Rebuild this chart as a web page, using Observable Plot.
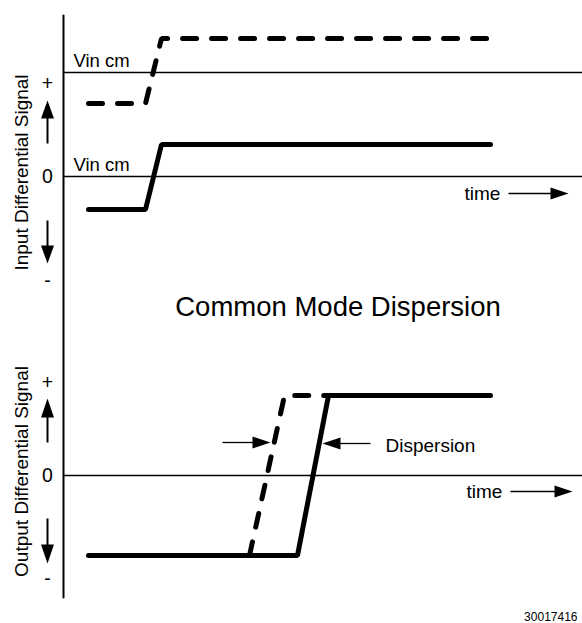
<!DOCTYPE html>
<html><head><meta charset="utf-8">
<script src="https://cdn.jsdelivr.net/npm/d3@7"></script>
<script src="https://cdn.jsdelivr.net/npm/@observablehq/plot@0.6"></script>
<style>body{margin:0;background:#fff}#chart svg{display:block}</style>
</head><body><div id="chart"></div>
<script>
// ---- data (diagram units: time along x, signal level along y, increasing downward) ----
const axisT = [63, 63];
const axisV = [15, 597];
const refStartT = 63, refEndT = 582;
const refLevels = [72, 176, 475];               // Vin cm, input 0, output 0

const inSolidT  = [88, 145, 161, 490];
const inSolidV  = [209, 209, 144, 144];
const inDashT   = [88, 145, 161, 487];
const inDashV   = [103, 103, 38, 38];

const outSolidT = [88, 297, 328, 490];
const outSolidV = [555, 555, 395, 395];
const outDashT  = [249, 284, 490];
const outDashV  = [555, 395, 395];

const vinText = ["Vin cm", "Vin cm"];
const vinT = [73, 73];
const vinV = [66, 170];

const signText = ["+", "0", "-", "+", "0", "-"];
const signT = [47, 47, 47, 47, 47, 47];
const signV = [83, 176, 280, 382, 475, 578];

// arrows: tail -> tip
const arrowTail = [[47,143],[47,220],[47,442],[47,518],[508,193],[510,491],[222,442],[370,443]];
const arrowTip  = [[47,100],[47,263],[47,398],[47,563],[568,193],[572,491],[270,442],[322,443]];
const arrowHeadLen = [18,18,19,19,18,18,18,18];
const arrowHeadWid = [13,13,13,13,12,12,12,12];
const arrowShaft   = [2,2,2,2,1.3,1.3,1.3,1.3];

const timeText = ["time", "time"];
const timeT = [464, 466];
const timeV = [199, 497];

const axisTitles = ["Input Differential Signal", "Output Differential Signal"];
const axisTitleT = [27, 27];
const axisTitleV = [172, 471];

const titleText = "Common Mode Dispersion";
const titleT = 337.5, titleV = 315;
const dispText = "Dispersion";
const dispT = 385, dispV = 451;
const codeText = "30017416";
const codeT = 577, codeV = 620;

// ---- build tables ----
const pts = (ts, vs) => ts.map((t, i) => ({t, v: vs[i]}));
const refs = refLevels.map(v => ({t1: refStartT, t2: refEndT, v}));
const shafts = [], heads = [];
arrowTail.forEach((a, i) => {
  const b = arrowTip[i];
  const dx = b[0]-a[0], dy = b[1]-a[1], len = Math.hypot(dx, dy);
  const ux = dx/len, uy = dy/len, nx = -uy, ny = ux;
  const L = arrowHeadLen[i], w = arrowHeadWid[i]/2;
  const bx = b[0]-ux*L, by = b[1]-uy*L;
  shafts.push({t1: a[0], v1: a[1], t2: bx + ux*1, v2: by + uy*1, w: arrowShaft[i]});
  heads.push({id: i, t: b[0], v: b[1]});
  heads.push({id: i, t: bx + nx*w, v: by + ny*w});
  heads.push({id: i, t: bx - nx*w, v: by - ny*w});
});
const font = "Liberation Sans, Arial, Helvetica, sans-serif";

const plot = Plot.plot({
  width: 582, height: 623,
  margin: 0,
  style: {fontFamily: font, background: "#fff"},
  x: {domain: [0, 582], range: [0, 582], axis: null},
  y: {domain: [0, 623], range: [0, 623], axis: null},
  marks: [
    Plot.line(pts(axisT, axisV), {x: "t", y: "v", stroke: "black", strokeWidth: 2}),
    Plot.link(refs, {x1: "t1", x2: "t2", y1: "v", y2: "v", stroke: "black", strokeWidth: 1.5}),
    Plot.line(pts(inDashT, inDashV), {x: "t", y: "v", stroke: "black", strokeWidth: 5, strokeDasharray: "14,15", strokeLinecap: "round", strokeLinejoin: "miter"}),
    Plot.line(pts(inSolidT, inSolidV), {x: "t", y: "v", stroke: "black", strokeWidth: 5, strokeLinecap: "round", strokeLinejoin: "miter"}),
    Plot.line(pts(outDashT, outDashV), {x: "t", y: "v", stroke: "black", strokeWidth: 5, strokeDasharray: "14,15", strokeLinecap: "round", strokeLinejoin: "miter"}),
    Plot.line(pts(outSolidT, outSolidV), {x: "t", y: "v", stroke: "black", strokeWidth: 5, strokeLinecap: "round", strokeLinejoin: "miter"}),
    Plot.link(shafts, {x1: "t1", y1: "v1", x2: "t2", y2: "v2", stroke: "black", strokeWidth: d => d.w}),
    Plot.line(heads, {x: "t", y: "v", z: "id", fill: "black", stroke: "none"}),
    Plot.text(vinText.map((s, i) => ({s, t: vinT[i], v: vinV[i]})), {x: "t", y: "v", text: "s", textAnchor: "start", lineAnchor: "bottom", fontSize: 18.5, fill: "black"}),
    Plot.text(signText.map((s, i) => ({s, t: signT[i], v: signV[i]})), {x: "t", y: "v", text: "s", textAnchor: "middle", lineAnchor: "middle", fontSize: 19.5, fill: "black"}),
    Plot.text(timeText.map((s, i) => ({s, t: timeT[i], v: timeV[i]})), {x: "t", y: "v", text: "s", textAnchor: "start", lineAnchor: "bottom", fontSize: 19, fill: "black"}),
    Plot.text(axisTitles.map((s, i) => ({s, t: axisTitleT[i], v: axisTitleV[i]})), {x: "t", y: "v", text: "s", rotate: -90, textAnchor: "middle", lineAnchor: "bottom", fontSize: 19, fill: "black"}),
    Plot.text([{s: titleText, t: titleT, v: titleV}], {x: "t", y: "v", text: "s", textAnchor: "middle", lineAnchor: "bottom", fontSize: 27.5, fill: "black"}),
    Plot.text([{s: dispText, t: dispT, v: dispV}], {x: "t", y: "v", text: "s", textAnchor: "start", lineAnchor: "bottom", fontSize: 19, fill: "black"}),
    Plot.text([{s: codeText, t: codeT, v: codeV}], {x: "t", y: "v", text: "s", textAnchor: "end", lineAnchor: "bottom", fontSize: 12, fill: "black"})
  ]
});
document.getElementById("chart").append(plot);
</script>
</body></html>
